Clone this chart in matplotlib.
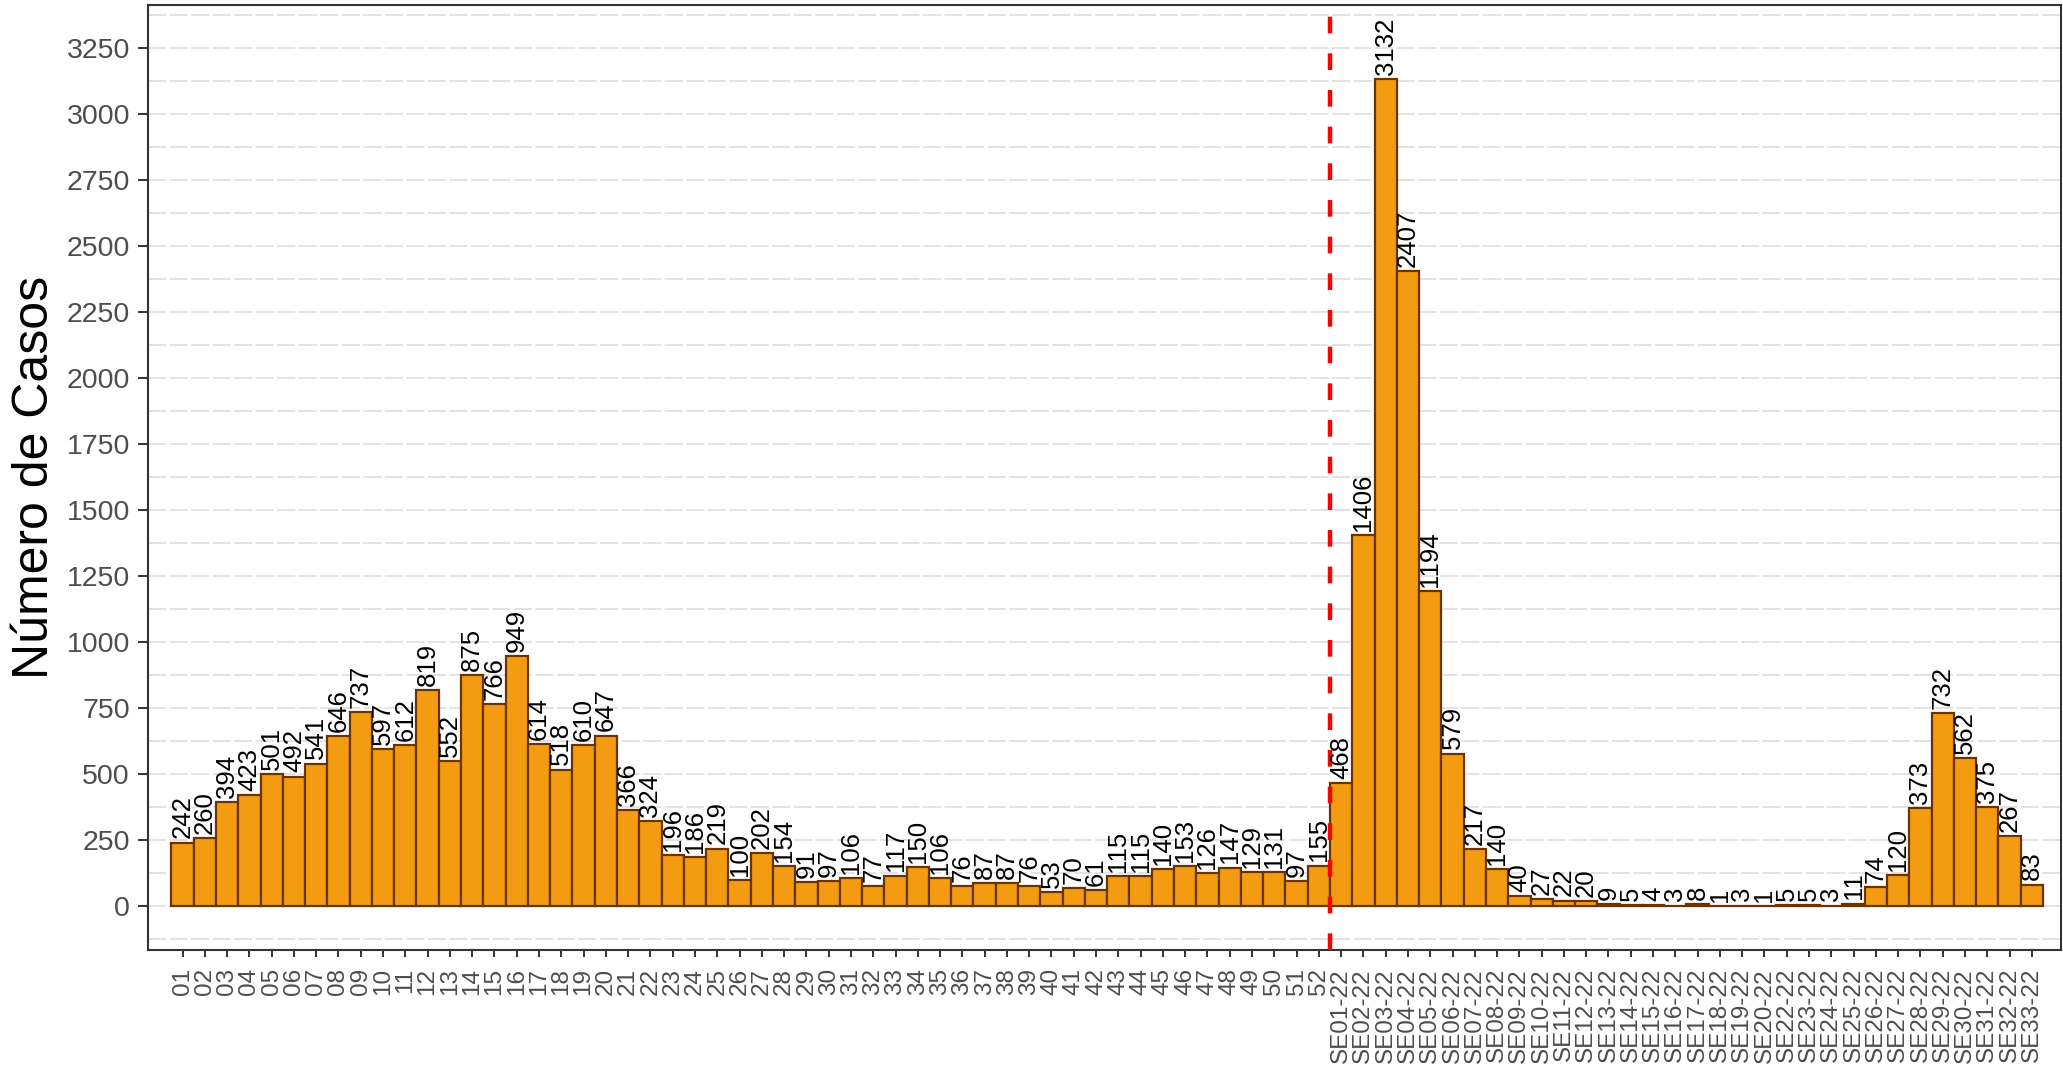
import matplotlib
matplotlib.use("Agg")
import matplotlib.pyplot as plt
import numpy as np

plt.rcParams['font.family'] = ['Liberation Sans', 'DejaVu Sans']

weeks_2021 = ["01", "02", "03", "04", "05", "06", "07", "08", "09", "10",
              "11", "12", "13", "14", "15", "16", "17", "18", "19", "20",
              "21", "22", "23", "24", "25", "26", "27", "28", "29", "30",
              "31", "32", "33", "34", "35", "36", "37", "38", "39", "40",
              "41", "42", "43", "44", "45", "46", "47", "48", "49", "50",
              "51", "52"]
cases_2021 = [242, 260, 394, 423, 501, 492, 541, 646, 737, 597,
              612, 819, 552, 875, 766, 949, 614, 518, 610, 647,
              366, 324, 196, 186, 219, 100, 202, 154, 91, 97,
              106, 77, 117, 150, 106, 76, 87, 87, 76, 53,
              70, 61, 115, 115, 140, 153, 126, 147, 129, 131,
              97, 155]

weeks_2022 = ["SE01-22", "SE02-22", "SE03-22", "SE04-22", "SE05-22", "SE06-22",
              "SE07-22", "SE08-22", "SE09-22", "SE10-22", "SE11-22", "SE12-22",
              "SE13-22", "SE14-22", "SE15-22", "SE16-22", "SE17-22", "SE18-22",
              "SE19-22", "SE20-22", "SE22-22", "SE23-22", "SE24-22", "SE25-22",
              "SE26-22", "SE27-22", "SE28-22", "SE29-22", "SE30-22", "SE31-22",
              "SE32-22", "SE33-22"]
cases_2022 = [468, 1406, 3132, 2407, 1194, 579, 217, 140, 40, 27, 22, 20,
              9, 5, 4, 3, 8, 1, 3, 1, 5, 5, 3, 11,
              74, 120, 373, 732, 562, 375, 267, 83]

y_major = [0, 250, 500, 750, 1000, 1250, 1500, 1750, 2000, 2250, 2500, 2750, 3000, 3250]

labels = weeks_2021 + weeks_2022
values = cases_2021 + cases_2022
x = np.arange(len(labels))

W, H = 2063, 1074
fig = plt.figure(figsize=(W / 100, H / 100), dpi=100)
ax = fig.add_axes([148 / W, 1 - 950 / H, (2061 - 148) / W, (950 - 5) / H])

ax.bar(x, values, width=1.0, color="#F39C12", edgecolor="#6B3300",
       linewidth=1.6, zorder=2)

for xi, v in zip(x, values):
    ax.annotate(str(v), (xi, v), xytext=(0, 3), textcoords="offset points",
                rotation=90, ha="center", va="bottom", fontsize=18.5,
                color="black", zorder=4)

ax.axvline(len(weeks_2021) - 0.5, color="red", lw=3.2,
           linestyle=(0, (3.75, 4.5)), zorder=3)

ax.set_xlim(-1.55, len(labels) - 1 + 1.31)
ax.set_ylim(-165, 3414)

ax.set_yticks(y_major)
ax.set_yticks([v - 125 for v in y_major] + [3375], minor=True)
ax.yaxis.grid(True, which="both", color="#E3E3E3", lw=1.4,
              linestyle=(0, (13 / 1.4, 2.5 / 1.4)), zorder=0)
ax.xaxis.grid(False)
ax.set_axisbelow(True)

ax.set_xticks(x)
ax.set_xticklabels(labels, rotation=90)

ax.tick_params(axis="y", which="major", length=7, width=1.4, color="#333333",
               labelcolor="#4D4D4D", labelsize=20.5, pad=6)
ax.tick_params(axis="y", which="minor", length=0)
ax.tick_params(axis="x", which="major", length=5, width=1.4, color="#333333",
               labelcolor="#4D4D4D", labelsize=17.5, pad=8)

for s in ax.spines.values():
    s.set_color("#333333")
    s.set_linewidth(1.5)

ax.set_ylabel("Número de Casos", fontsize=36, labelpad=6, color="black")

fig.savefig("out.png", dpi=100)
